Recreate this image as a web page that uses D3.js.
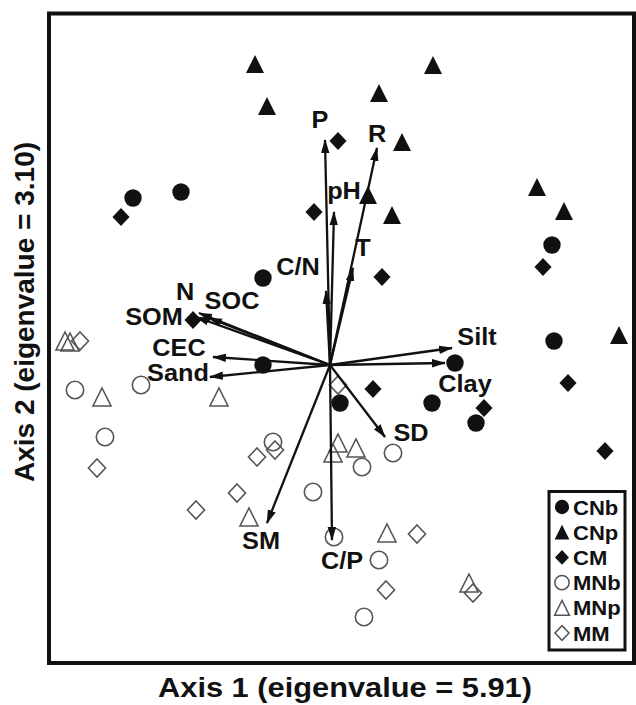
<!DOCTYPE html>
<html>
<head>
<meta charset="utf-8">
<script src="https://cdn.jsdelivr.net/npm/d3@7"></script>
<style>
  body { margin: 0; background: #fff; }
  text { font-family: "Liberation Sans", Arial, sans-serif; font-weight: bold; fill: #111; }
</style>
</head>
<body>
<div id="chart"></div>
<script>

// site scores on the two PCA axes
var groups = ["CNb", "CNp", "CM", "MNb", "MNp", "MM"]

var scoresCNb = [[-1.97, 1.67], [-1.49, 1.73], [-0.67, 0.87], [-0.67, 0.00], [0.10, -0.38],
	[1.02, -0.38], [1.25, 0.02], [1.46, -0.58], [2.22, 1.20], [2.24, 0.24]]
var scoresCNp = [[-0.75, 3.01], [-0.63, 2.59], [1.03, 3.00], [0.49, 2.72], [0.72, 2.23],
	[0.38, 1.70], [0.62, 1.50], [2.07, 1.78], [2.34, 1.54], [2.89, 0.30]]
var scoresCM = [[-2.09, 1.48], [-0.16, 1.53], [0.08, 2.24], [0.52, 0.88], [-1.37, 0.45],
	[2.13, 0.98], [2.38, -0.18], [0.43, -0.24], [1.54, -0.43], [2.75, -0.86]]
var scoresMNb = [[-2.55, -0.25], [-1.89, -0.20], [-2.25, -0.72], [-0.57, -0.77], [-0.17, -1.27],
	[0.32, -1.02], [0.63, -0.88], [0.04, -1.72], [0.49, -1.95], [0.34, -2.52]]
var scoresMNp = [[-2.65, 0.24], [-2.60, 0.23], [-2.28, -0.32], [-1.11, -0.32], [0.08, -0.78],
	[0.03, -0.88], [0.26, -0.83], [-0.81, -1.52], [0.57, -1.68], [1.39, -2.18]]
var scoresMM = [[-2.50, 0.24], [-2.33, -1.03], [0.08, -0.20], [-0.55, -0.85], [-0.73, -0.92],
	[-0.93, -1.28], [-1.34, -1.45], [0.87, -1.69], [0.56, -2.25], [1.43, -2.28]]

// variable loadings (arrow tips)
var variables = ["P", "pH", "R", "T", "C/N", "N", "SOM", "SOC", "CEC", "Sand", "Silt", "Clay", "SD", "SM", "C/P"]
var loadX = [-0.05, 0.04, 0.47, 0.23, -0.04, -1.31, -1.34, -1.21, -1.17, -1.20, 1.22, 1.15, 0.55, -0.63, 0.02]
var loadY = [2.25, 1.53, 2.17, 0.97, 0.74, 0.52, 0.48, 0.47, 0.08, -0.12, 0.17, 0.02, -0.72, -1.58, -1.75]

var axisTitleX = "Axis 1 (eigenvalue = 5.91)"
var axisTitleY = "Axis 2 (eigenvalue = 3.10)"

var xDomain = [-2.81, 3.04]
var yDomain = [-2.98, 3.515]

var scores = [scoresCNb, scoresCNp, scoresCM, scoresMNb, scoresMNp, scoresMM]

var fullWidth = 636, fullHeight = 705
var margin = {top: 13.5, right: 2, bottom: 42, left: 49}
var width = fullWidth - margin.left - margin.right,
	height = fullHeight - margin.top - margin.bottom

var svg = d3.select("#chart").append("svg")
	.attr("width", fullWidth)
	.attr("height", fullHeight)

var x = d3.scaleLinear().domain(xDomain).range([margin.left, margin.left + width])
var y = d3.scaleLinear().domain(yDomain).range([margin.top + height, margin.top])

// symbol shapes: triangle and diamond about as wide as tall
var triangle = {
	draw: function(ctx, size) {
		var r = Math.sqrt(size) / 2
		ctx.moveTo(0, -r)
		ctx.lineTo(r, r)
		ctx.lineTo(-r, r)
		ctx.closePath()
	}
}
var diamond = {
	draw: function(ctx, size) {
		var r = Math.sqrt(size) / 2
		ctx.moveTo(0, -r)
		ctx.lineTo(r * 0.95, 0)
		ctx.lineTo(0, r)
		ctx.lineTo(-r * 0.95, 0)
		ctx.closePath()
	}
}

var symbolType = [d3.symbolCircle, triangle, diamond, d3.symbolCircle, triangle, diamond]
var symbolSize = function(i, scale) {
	// circle radius ~8.7, triangle/diamond half-height 9
	if (i % 3 == 0) return Math.PI * Math.pow(8.7 * scale, 2)
	return Math.pow(18 * scale, 2)
}
var filled = function(i) { return i < 3 }

// points
groups.forEach(function(g, i) {
	svg.append("g")
		.attr("class", "group " + g)
		.selectAll("path")
		.data(scores[i])
		.join("path")
		.attr("transform", function(d) { return "translate(" + x(d[0]) + "," + y(d[1]) + ")" })
		.attr("d", d3.symbol().type(symbolType[i]).size(symbolSize(i, 1)))
		.attr("fill", filled(i) ? "#111" : "none")
		.attr("stroke", filled(i) ? "none" : "#555")
		.attr("stroke-width", 1.6)
})

// arrows
svg.append("defs").append("marker")
	.attr("id", "head")
	.attr("markerUnits", "userSpaceOnUse")
	.attr("viewBox", "0 -5 14 10")
	.attr("refX", 13)
	.attr("refY", 0)
	.attr("markerWidth", 14)
	.attr("markerHeight", 10)
	.attr("orient", "auto")
	.append("path")
	.attr("d", "M0,-4.2L14,0L0,4.2Z")
	.attr("fill", "#111")

var loadings = variables.map(function(v, i) { return {name: v, x: loadX[i], y: loadY[i]} })

svg.append("g")
	.selectAll("line")
	.data(loadings)
	.join("line")
	.attr("x1", x(0))
	.attr("y1", y(0))
	.attr("x2", function(d) { return x(d.x) })
	.attr("y2", function(d) { return y(d.y) })
	.attr("stroke", "#111")
	.attr("stroke-width", 2.3)
	.attr("marker-end", "url(#head)")

// where each label sits relative to its arrow tip (px)
var nudge = {
	"P": [-5, -20], "pH": [10, -21], "R": [0, -14], "T": [10, -20], "C/N": [-28, -24],
	"N": [-14, -21], "SOM": [-42, 0], "SOC": [23, -17], "CEC": [-34, -9], "Sand": [-32, -4],
	"Silt": [25, -11], "Clay": [20, 21], "SD": [26, -4], "SM": [-6, 18], "C/P": [10, 21]
}

svg.append("g")
	.selectAll("text")
	.data(loadings)
	.join("text")
	.attr("transform", function(d) {
		var n = nudge[d.name]
		return "translate(" + (x(d.x) + n[0]) + "," + (y(d.y) + n[1]) + ") scale(1.1,1)"
	})
	.attr("text-anchor", "middle")
	.attr("dy", "0.36em")
	.style("font-size", "23px")
	.text(function(d) { return d.name })

// frame
svg.append("rect")
	.attr("x", margin.left)
	.attr("y", margin.top)
	.attr("width", width)
	.attr("height", height)
	.attr("fill", "none")
	.attr("stroke", "#111")
	.attr("stroke-width", 4)

// axis titles
svg.append("text")
	.attr("transform", "translate(" + 345 + "," + 697 + ") scale(1.1,1)")
	.attr("text-anchor", "middle")
	.style("font-size", "28px")
	.text(axisTitleX)

svg.append("text")
	.attr("transform", "translate(" + 34 + "," + 312 + ") rotate(-90)")
	.attr("text-anchor", "middle")
	.style("font-size", "28px")
	.text(axisTitleY)

// legend
var legend = svg.append("g").attr("transform", "translate(549,491.5)")

legend.append("rect")
	.attr("width", 76)
	.attr("height", 158.5)
	.attr("fill", "#fff")
	.attr("stroke", "#111")
	.attr("stroke-width", 3)

var item = legend.selectAll("g.item")
	.data(groups)
	.join("g")
	.attr("class", "item")
	.attr("transform", function(d, i) { return "translate(13," + (15.5 + i * 25.2) + ")" })

item.append("path")
	.attr("d", function(d, i) { return d3.symbol().type(symbolType[i]).size(symbolSize(i, 0.82))() })
	.attr("fill", function(d, i) { return filled(i) ? "#111" : "none" })
	.attr("stroke", function(d, i) { return filled(i) ? "none" : "#555" })
	.attr("stroke-width", 1.5)

item.append("text")
	.attr("transform", "translate(11,0) scale(1.05,1)")
	.attr("dy", "0.36em")
	.style("font-size", "21px")
	.text(function(d) { return d })

</script>
</body>
</html>
